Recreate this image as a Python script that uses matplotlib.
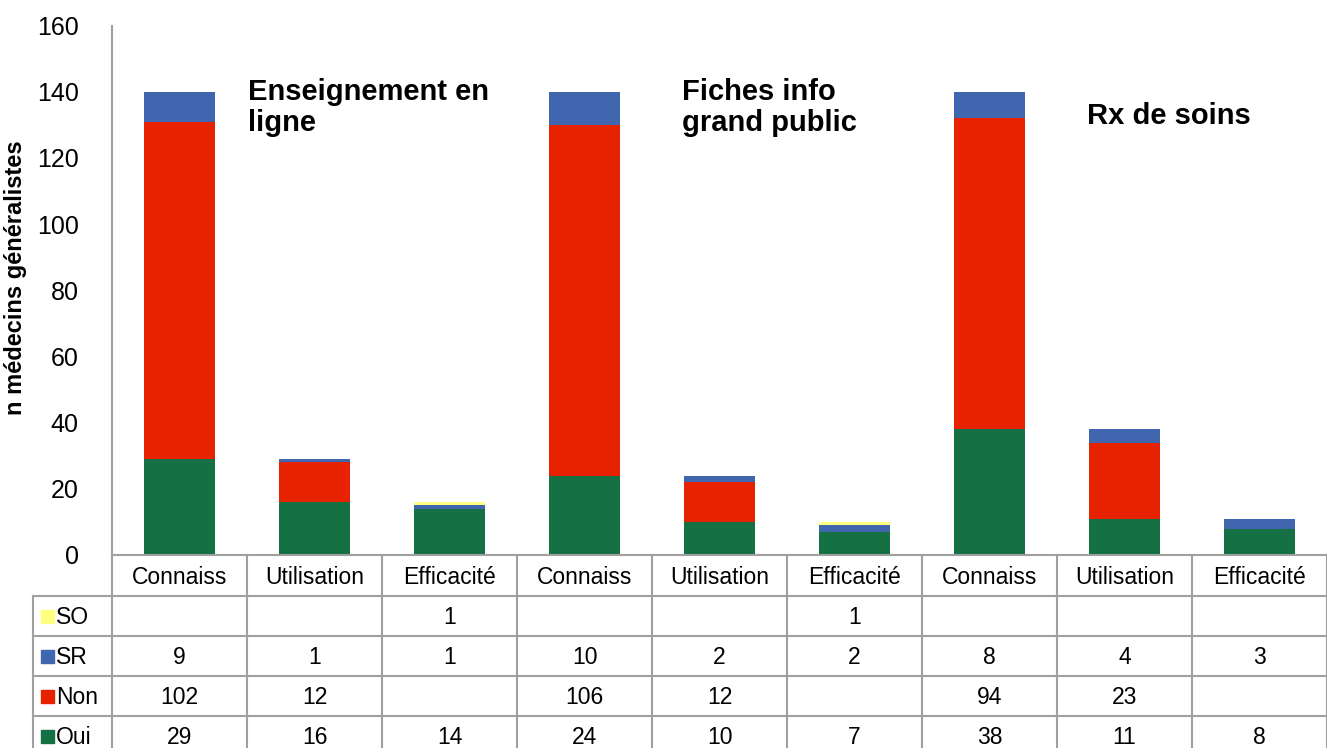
import matplotlib
matplotlib.use("Agg")
import matplotlib.pyplot as plt
from matplotlib.lines import Line2D
from matplotlib.patches import Rectangle

plt.rcParams['font.family'] = ['Liberation Sans', 'DejaVu Sans']

categories = ["Connaiss", "Utilisation", "Efficacité",
              "Connaiss", "Utilisation", "Efficacité",
              "Connaiss", "Utilisation", "Efficacité"]
oui = [29, 16, 14, 24, 10, 7, 38, 11, 8]
non = [102, 12, 0, 106, 12, 0, 94, 23, 0]
sr = [9, 1, 1, 10, 2, 2, 8, 4, 3]
so = [0, 0, 1, 0, 0, 1, 0, 0, 0]
group_titles = ["Enseignement en\nligne", "Fiches info\ngrand public", "Rx de soins"]

series = [("Oui", oui, "#157043"), ("Non", non, "#E62200"),
          ("SR", sr, "#4066B0"), ("SO", so, "#FFFF80")]
table_order = ["SO", "SR", "Non", "Oui"]

W, H = 1327, 748
fig = plt.figure(figsize=(W / 100, H / 100), dpi=100)
ax_left, ax_right, y0_px, y160_px = 112, 1327, 555, 25.6
ax_w = ax_right - ax_left
ax_h = y0_px - y160_px
ax = fig.add_axes([ax_left / W, 1 - y0_px / H, ax_w / W, ax_h / H])

x = list(range(len(categories)))
bottom = [0] * len(categories)
for name, vals, col in series:
    ax.bar(x, vals, width=0.52, bottom=bottom, color=col, edgecolor='none', zorder=3)
    bottom = [b + v for b, v in zip(bottom, vals)]

ax.set_xlim(-0.5, len(categories) - 0.5)
ax.set_ylim(0, 160)
ax.set_yticks(range(0, 161, 20))
ax.tick_params(axis='y', length=0, pad=24, labelsize=18)
ax.tick_params(axis='x', length=0, labelbottom=False)
for s in ['top', 'right', 'bottom']:
    ax.spines[s].set_visible(False)
ax.spines['left'].set_color('#A0A0A0')
ax.spines['left'].set_linewidth(1.5)
ax.set_ylabel("n médecins généralistes", fontsize=17, fontweight='bold')
ax.yaxis.set_label_coords((16 - ax_left) / ax_w, (y0_px - 278) / ax_h)
ax.yaxis.label.set_va('center')

# group titles
fig.text(248 / W, 1 - 78 / H, group_titles[0], fontsize=21, fontweight='bold', va='top', ha='left',
         linespacing=1.12)
fig.text(682 / W, 1 - 78 / H, group_titles[1], fontsize=21, fontweight='bold', va='top', ha='left',
         linespacing=1.12)
fig.text(1087 / W, 1 - 116 / H, group_titles[2], fontsize=21, fontweight='bold', va='center', ha='left')

# data table beneath the axis
fx = lambda px: px / W
fy = lambda py: 1 - py / H
gray = '#A0A0A0'
lw = 1.5
col_w = ax_w / len(categories)
row_edges = [555, 596, 636, 676, 716]
row_h = 40
fig.add_artist(Line2D([fx(ax_left), fx(ax_right)], [fy(555), fy(555)], color=gray, lw=lw))
for ry in row_edges[1:]:
    fig.add_artist(Line2D([fx(33), fx(ax_right)], [fy(ry), fy(ry)], color=gray, lw=lw))
fig.add_artist(Line2D([fx(33), fx(33)], [fy(596), 0], color=gray, lw=lw))
for i in range(len(categories) + 1):
    px = ax_left + i * col_w
    fig.add_artist(Line2D([fx(px), fx(px)], [fy(555), 0], color=gray, lw=lw))

for i, c in enumerate(categories):
    cx = ax_left + (i + 0.5) * col_w
    fig.text(fx(cx), fy(577), c, fontsize=16.5, ha='center', va='center')

data_by_name = {n: (v, c) for n, v, c in series}
for r, name in enumerate(table_order):
    vals, col = data_by_name[name]
    cy = 597 + r * row_h + row_h / 2
    fig.add_artist(Rectangle((fx(41), fy(cy + 6)), 13 / W, 13 / H, color=col,
                             transform=fig.transFigure))
    fig.text(fx(56), fy(cy), name, fontsize=16.5, ha='left', va='center')
    for i, v in enumerate(vals):
        if v:
            cx = ax_left + (i + 0.5) * col_w
            fig.text(fx(cx), fy(cy), str(v), fontsize=16.5, ha='center', va='center')

fig.savefig("out.png", dpi=100)
